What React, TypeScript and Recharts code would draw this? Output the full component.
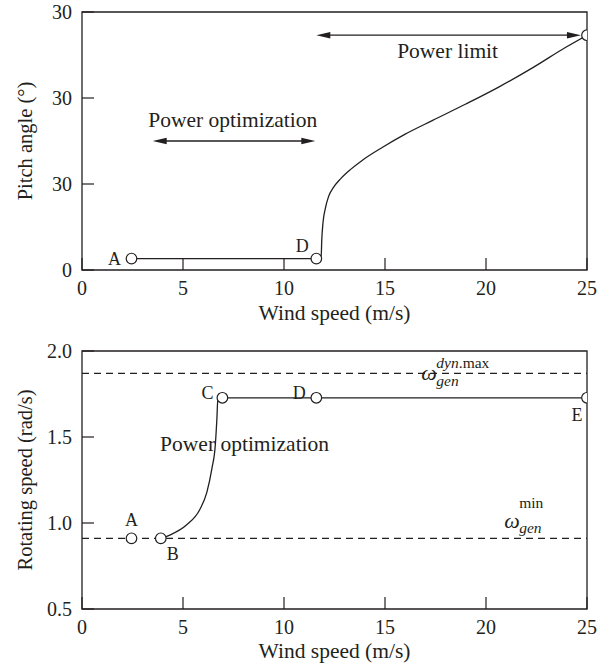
import React from 'react';
import {
  ComposedChart,
  XAxis,
  YAxis,
  Line,
  Scatter,
  ReferenceLine,
  ReferenceArea,
  Label,
} from 'recharts';

const INK = '#231f20';
const FONT = '"Liberation Serif", "Times New Roman", Times, serif';

// Shared wind speed axis (m/s)
const windTicks = [0, 5, 10, 15, 20, 25];

// Pitch angle panel
const pitchTicks = [0, 10, 20, 30];
const pitchTickLabels = ['0', '30', '30', '30'];
const pitchCurveWind = [2.45, 11.6, 11.84, 11.87, 11.93, 12.05, 12.2, 12.45, 12.8, 13.3, 13.9, 14.9, 16.0, 17.36, 19.0, 20.65, 22.3, 23.95, 25.0];
const pitchCurveAngle = [1.33, 1.33, 1.6, 3.5, 5.5, 7.2, 8.5, 9.6, 10.6, 11.7, 12.8, 14.3, 15.8, 17.4, 19.3, 21.3, 23.5, 25.9, 27.3];
const pitchMarkerNames = ['A', 'D', ''];
const pitchMarkerWind = [2.45, 11.6, 25.0];
const pitchMarkerAngle = [1.33, 1.33, 27.3];

// Rotating speed panel (rad/s)
const speedTicks = [0.5, 1.0, 1.5, 2.0];
const speedCurveWind = [3.9, 4.35, 5.17, 5.84, 6.18, 6.43, 6.6, 6.68, 6.72, 6.95, 11.6, 25.0];
const speedCurveValue = [0.911, 0.93, 0.988, 1.08, 1.178, 1.316, 1.454, 1.612, 1.71, 1.728, 1.728, 1.728];
const speedMarkerNames = ['A', 'B', 'C', 'D', 'E'];
const speedMarkerWind = [2.45, 3.9, 6.95, 11.6, 25.0];
const speedMarkerValue = [0.911, 0.911, 1.728, 1.728, 1.728];
const omegaGenMin = 0.911;
const omegaGenDynMax = 1.87;

// Letter placement around each marker (px)
const pitchLetterOffsets: [number, number][] = [[-17, 0], [-14, -13], [0, 0]];
const speedLetterOffsets: [number, number][] = [[0, -18], [12, 16], [-15, -5], [-17, -5], [-10, 17]];

const zip = (xs: number[], ys: number[]) => xs.map((x, i) => ({ x, y: ys[i] }));

const pitchCurve = zip(pitchCurveWind, pitchCurveAngle);
const speedCurve = zip(speedCurveWind, speedCurveValue);
const pitchMarkers = pitchMarkerNames.map((name, i) => ({
  x: pitchMarkerWind[i],
  y: pitchMarkerAngle[i],
  name,
  dx: pitchLetterOffsets[i][0],
  dy: pitchLetterOffsets[i][1],
}));
const speedMarkers = speedMarkerNames.map((name, i) => ({
  x: speedMarkerWind[i],
  y: speedMarkerValue[i],
  name,
  dx: speedLetterOffsets[i][0],
  dy: speedLetterOffsets[i][1],
}));

// Text notes placed in data coordinates (baseline at y)
const pitchNotes = [
  { x: 18.1, y: 24.7, text: 'Power limit' },
  { x: 7.46, y: 16.6, text: 'Power optimization' },
];
const speedNotes = [{ x: 8.05, y: 1.42, text: 'Power optimization' }];

const serif = { fontFamily: FONT };
const tickStyle = { fill: INK, fontSize: 20, fontFamily: FONT, style: serif };

const MarkerShape = (p: any) => {
  const { cx, cy, payload } = p;
  return (
    <g>
      <circle cx={cx} cy={cy} r={5.3} fill="#fff" stroke={INK} strokeWidth={1.2} />
      {payload.name ? (
        <text
          x={cx + payload.dx}
          y={cy + payload.dy}
          textAnchor="middle"
          dominantBaseline="central"
          fontSize={18}
          style={serif}
          fill={INK}
        >
          {payload.name}
        </text>
      ) : null}
    </g>
  );
};

const NoteShape = (p: any) => (
  <text x={p.cx} y={p.cy} textAnchor="middle" fontSize={21.5} style={serif} fill={INK}>
    {p.payload.text}
  </text>
);

const DoubleArrow = (p: any) => {
  const { x1, y1, x2 } = p;
  const L = 14;
  const W = 3.2;
  const left = Math.min(x1, x2);
  const right = Math.max(x1, x2);
  const y = y1;
  return (
    <g>
      <line x1={left + 10} y1={y} x2={right - 10} y2={y} stroke={INK} strokeWidth={1.3} />
      <polygon points={`${left},${y} ${left + L},${y - W} ${left + L},${y + W}`} fill={INK} />
      <polygon points={`${right},${y} ${right - L},${y - W} ${right - L},${y + W}`} fill={INK} />
    </g>
  );
};

// ω_gen with a superscript, anchored at the left of the ω glyph
const OmegaLabel = (sup: string, supItalic: boolean, dyOmega: number, dySub: number, dySup: number) => (p: any) => {
  const { cx, cy } = p;
  return (
    <g fill={INK} style={serif}>
      <text x={cx} y={cy + dyOmega} fontSize={22} fontStyle="italic" style={serif}>
        ω
      </text>
      <text x={cx + 15} y={cy + dySub} fontSize={15.5} fontStyle="italic" style={serif}>
        gen
      </text>
      <text x={cx + 15} y={cy + dySup} fontSize={15.5} style={serif}>
        {supItalic ? (
          <>
            <tspan fontStyle="italic">dyn</tspan>
            <tspan>.max</tspan>
          </>
        ) : (
          sup
        )}
      </text>
    </g>
  );
};

const yTitle = (text: string) => (props: any) => {
  const vb = props.viewBox || { x: 0, y: 0, width: 0, height: 0 };
  const cx = vb.x + 25;
  const cy = vb.y + vb.height / 2;
  return (
    <text
      x={cx}
      y={cy}
      transform={`rotate(-90 ${cx} ${cy})`}
      textAnchor="middle"
      dominantBaseline="central"
      fontSize={20.5}
      style={serif}
      fill={INK}
    >
      {text}
    </text>
  );
};

const PitchPanel = () => (
  <ComposedChart width={616} height={339} margin={{ top: 12, right: 29, bottom: 0, left: 0 }} style={serif}>
    <XAxis
      type="number"
      dataKey="x"
      domain={[0, 25]}
      ticks={windTicks}
      allowDataOverflow
      axisLine={false}
      tickSize={-12}
      tickMargin={23}
      tickLine={{ stroke: INK, strokeWidth: 1.2 }}
      tick={tickStyle}
      height={69}
      interval={0}
    >
      <Label value="Wind speed (m/s)" position="insideBottom" offset={19} fill={INK} fontSize={21.5} style={serif} />
    </XAxis>
    <YAxis
      type="number"
      dataKey="y"
      domain={[0, 30]}
      ticks={pitchTicks}
      allowDataOverflow
      axisLine={false}
      tickSize={-12}
      tickMargin={22}
      tickLine={{ stroke: INK, strokeWidth: 1.2 }}
      tick={tickStyle}
      tickFormatter={(_v: number, i: number) => pitchTickLabels[i]}
      width={82}
      interval={0}
    >
      <Label content={yTitle('Pitch angle (°)')} />
    </YAxis>
    <ReferenceArea x1={0} x2={25} y1={0} y2={30} fill="none" stroke={INK} strokeWidth={1.3} ifOverflow="visible" />
    <ReferenceLine segment={[{ x: 11.6, y: 27.3 }, { x: 24.7, y: 27.3 }]} shape={DoubleArrow} ifOverflow="visible" />
    <ReferenceLine segment={[{ x: 3.5, y: 15.0 }, { x: 11.55, y: 15.0 }]} shape={DoubleArrow} ifOverflow="visible" />
    <Line
      data={pitchCurve}
      dataKey="y"
      type="monotone"
      dot={false}
      stroke={INK}
      strokeWidth={1.3}
      isAnimationActive={false}
    />
    <Scatter data={pitchNotes} dataKey="y" shape={NoteShape} isAnimationActive={false} />
    <Scatter data={pitchMarkers} dataKey="y" shape={MarkerShape} isAnimationActive={false} />
  </ComposedChart>
);

const omegaDynMaxAnchor = [{ x: 16.8, y: omegaGenDynMax }];
const omegaMinAnchor = [{ x: 20.9, y: omegaGenMin }];

const SpeedPanel = () => (
  <ComposedChart width={616} height={333} margin={{ top: 12, right: 29, bottom: 0, left: 0 }} style={serif}>
    <XAxis
      type="number"
      dataKey="x"
      domain={[0, 25]}
      ticks={windTicks}
      allowDataOverflow
      axisLine={false}
      tickSize={-12}
      tickMargin={23}
      tickLine={{ stroke: INK, strokeWidth: 1.2 }}
      tick={tickStyle}
      height={63}
      interval={0}
    >
      <Label value="Wind speed (m/s)" position="insideBottom" offset={14} fill={INK} fontSize={21.5} style={serif} />
    </XAxis>
    <YAxis
      type="number"
      dataKey="y"
      domain={[0.5, 2.0]}
      ticks={speedTicks}
      allowDataOverflow
      axisLine={false}
      tickSize={-12}
      tickMargin={22}
      tickLine={{ stroke: INK, strokeWidth: 1.2 }}
      tick={tickStyle}
      tickFormatter={(v: number) => v.toFixed(1)}
      width={82}
      interval={0}
    >
      <Label content={yTitle('Rotating speed (rad/s)')} />
    </YAxis>
    <ReferenceArea x1={0} x2={25} y1={0.5} y2={2.0} fill="none" stroke={INK} strokeWidth={1.3} ifOverflow="visible" />
    <ReferenceLine y={omegaGenDynMax} stroke={INK} strokeWidth={1.2} strokeDasharray="7 5" />
    <ReferenceLine y={omegaGenMin} stroke={INK} strokeWidth={1.2} strokeDasharray="7 5" />
    <Scatter data={omegaDynMaxAnchor} dataKey="y" shape={OmegaLabel('dyn.max', true, 7, 13, -5)} isAnimationActive={false} />
    <Scatter data={omegaMinAnchor} dataKey="y" shape={OmegaLabel('min', false, -10, -5, -30)} isAnimationActive={false} />
    <Line
      data={speedCurve}
      dataKey="y"
      type="monotone"
      dot={false}
      stroke={INK}
      strokeWidth={1.3}
      isAnimationActive={false}
    />
    <Scatter data={speedNotes} dataKey="y" shape={NoteShape} isAnimationActive={false} />
    <Scatter data={speedMarkers} dataKey="y" shape={MarkerShape} isAnimationActive={false} />
  </ComposedChart>
);

export default function App() {
  return (
    <div style={{ position: 'absolute', left: 0, top: 0, width: 616, height: 672, background: '#fff', fontFamily: FONT }}>
      <PitchPanel />
      <SpeedPanel />
    </div>
  );
}
